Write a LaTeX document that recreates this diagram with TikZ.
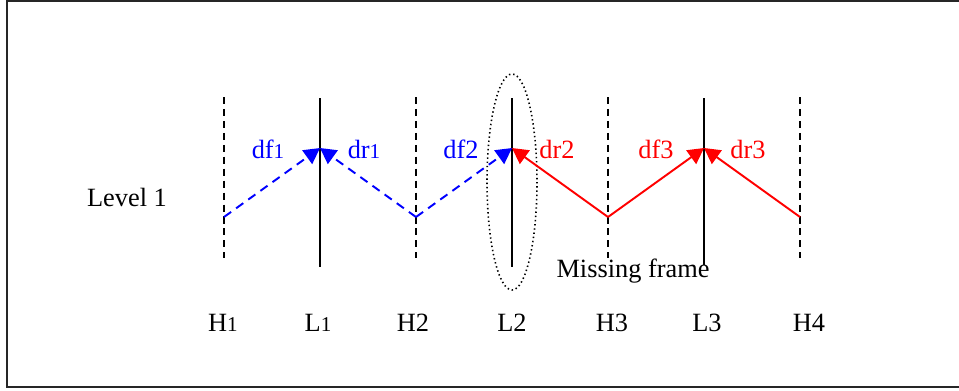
\documentclass[tikz,border=0pt]{standalone}
\usepackage{fontspec}
\setmainfont{Liberation Serif}
\usetikzlibrary{arrows.meta,positioning}

\newcommand{\one}{{\fontsize{12}{14}\selectfont 1}}

\begin{document}
\begin{tikzpicture}[x=0.02cm, y=-0.02cm,
  hline/.style={line width=1.1pt, dash pattern=on 4pt off 2.8pt},
  lline/.style={line width=1.1pt},
  fwd/.style={line width=1.1pt, -{Triangle[length=9pt,width=9.5pt]}},
  bluedash/.style={fwd, blue, dash pattern=on 5pt off 3.5pt},
  redline/.style={fwd, red},
  lbl/.style={font=\fontsize{15}{18}\selectfont, anchor=base}]
\useasboundingbox (0,0) rectangle (959,390);
\draw[line width=1.3pt, black!85] (7,1) rectangle (975,387);

% frame positions
\coordinate (h1) at (224,217);
\coordinate (l1) at (320,148);
\coordinate (h2) at (416,217);
\coordinate (l2) at (512,148);
\coordinate (h3) at (608,217);
\coordinate (l3) at (704,148);
\coordinate (h4) at (800,217);

\draw[hline] (224,97) -- (224,258);
\draw[hline] (416,97) -- (416,258);
\draw[hline] (608,97) -- (608,258);
\draw[hline] (800,97) -- (800,258);
\draw[lline] (320,98) -- (320,267);
\draw[lline] (512,98) -- (512,267);
\draw[lline] (704,98) -- (704,265);

\draw[line width=0.9pt, dash pattern=on 0.8pt off 1.6pt] (512,182) ellipse [x radius=25, y radius=108];

\draw[bluedash] (h1) -- (l1);
\draw[bluedash] (h2) -- (l1);
\draw[bluedash] (h2) -- (l2);
\draw[redline] (h3) -- (l2);
\draw[redline] (h3) -- (l3);
\draw[redline] (h4) -- (l3);

\node[lbl, blue] (df1) at (268,158) {df\one};
\node[lbl, blue] (dr1) at (364,158) {dr\one};
\node[lbl, blue] (df2) at (461,158) {df2};
\node[lbl, red] (dr2) at (557,158) {dr2};
\node[lbl, red] (df3) at (656,158) {df3};
\node[lbl, red] (dr3) at (748,158) {dr3};

\node[lbl] (level) at (127,206) {Level 1};
\node[lbl] (missing) at (633,277) {Missing frame};

\node[lbl] (H1) at (223,331) {H\one};
\node[lbl] (L1) at (318,331) {L\one};
\node[lbl] (H2) at (413,331) {H2};
\node[lbl] (L2) at (512,331) {L2};
\node[lbl] (H3) at (612,331) {H3};
\node[lbl] (L3) at (707,331) {L3};
\node[lbl] (H4) at (809,331) {H4};
\end{tikzpicture}
\end{document}
